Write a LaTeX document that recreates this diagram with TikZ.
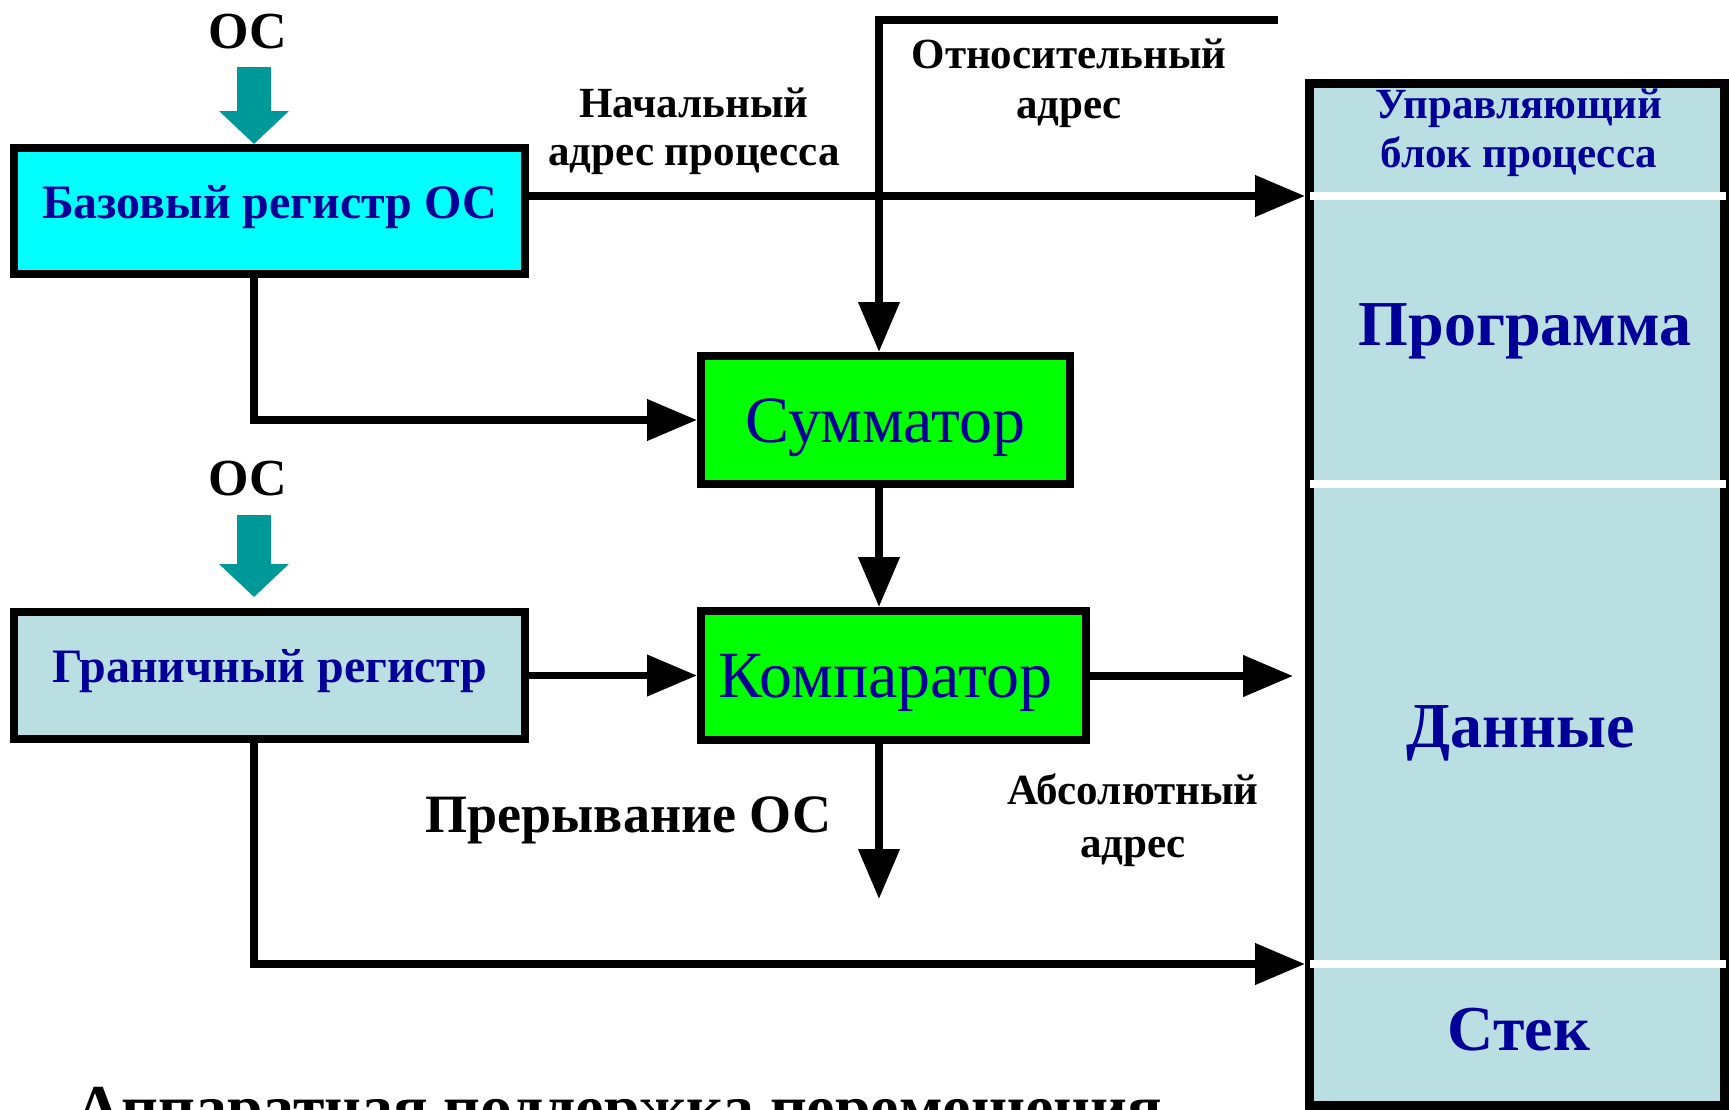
\documentclass[tikz,border=0pt]{standalone}
\usepackage{fontspec}
\setmainfont{Liberation Serif}
\usetikzlibrary{arrows.meta}
\definecolor{txtblue}{RGB}{0,0,153}
\definecolor{oscol}{RGB}{0,153,153}
\definecolor{memfill}{RGB}{185,223,227}
\definecolor{basefill}{RGB}{0,255,255}
\definecolor{sumfill}{RGB}{0,255,0}
\newcommand\myfs[2]{\fontsize{#1}{#2}\selectfont}
\begin{document}
\begin{tikzpicture}[x=1pt,y=-1pt,
  box/.style={draw=black, line width=8pt, rectangle, inner sep=0pt},
  membox/.style={draw=black, line width=9pt, rectangle, inner sep=0pt, fill=memfill},
  divider/.style={draw=white, line width=8pt},
  arr/.style={draw=black, line width=7.5pt, -{Triangle[length=50pt,width=40pt]}},
  osarr/.style={draw=oscol, line width=34pt, -{Triangle[length=33pt,width=68pt]}},
  lbl/.style={text=black, align=center, inner sep=0pt},
  memtxt/.style={text=txtblue, align=center, inner sep=0pt}
]
\useasboundingbox (0,0) rectangle (1729,1109);
\clip (0,0) rectangle (1729,1109);

% memory block
\node[membox, minimum width=415pt, minimum height=1022pt] (mem) at (1517,594) {};
\coordinate (y1) at (0,196);
\coordinate (y2) at (0,484);
\coordinate (y3) at (0,964);
\draw[divider] ([xshift=5pt]mem.west |- y1) -- ([xshift=-3pt]mem.east |- y1);
\draw[divider] ([xshift=5pt]mem.west |- y2) -- ([xshift=-3pt]mem.east |- y2);
\draw[divider] ([xshift=5pt]mem.west |- y3) -- ([xshift=-3pt]mem.east |- y3);

\node[memtxt, font=\bfseries\myfs{43}{49}, anchor=base] (pcb) at (1519,167) {Управляющий\\блок процесса};
\node[memtxt, font=\bfseries\myfs{64}{70}, anchor=base] (prog) at (1525,345) {Программа};
\node[memtxt, font=\bfseries\myfs{64}{70}, anchor=base] (data) at (1521,747) {Данные};
\node[memtxt, font=\bfseries\myfs{64}{70}, anchor=base] (stack) at (1519,1050) {Стек};

% boxes
\node[box, fill=basefill, minimum width=511pt, minimum height=126pt, text=txtblue,
      font=\bfseries\myfs{48}{52}, text height=30pt, text depth=16pt] (base) at (269.5,211) {Базовый регистр ОС};
\node[box, fill=memfill, minimum width=511pt, minimum height=127pt, text=txtblue,
      font=\bfseries\myfs{48}{52}, text height=30pt, text depth=17pt] (gran) at (269.5,675.5) {Граничный регистр};
\node[box, fill=sumfill, minimum width=369pt, minimum height=128pt, text=txtblue,
      font=\myfs{66}{70}, text height=44pt, text depth=0pt] (sum) at (885.5,420) {Сумматор};
\node[box, fill=sumfill, minimum width=385pt, minimum height=129pt, text=txtblue,
      font=\myfs{66}{70}, text height=44pt, text depth=1pt] (comp) at (893.5,675.5) {Компаратор\hspace*{16pt}};

% labels
\node[lbl, font=\bfseries\myfs{52}{56}, anchor=base] (os1) at (248,48) {ОС};
\node[lbl, font=\bfseries\myfs{52}{56}, anchor=base] (os2) at (248,495) {ОС};
\node[lbl, font=\bfseries\myfs{43}{48}, anchor=base] (lstart) at (694,165) {Начальный\\адрес процесса};
\node[lbl, font=\bfseries\myfs{43}{50}, anchor=base] (lrel) at (1069,118) {Относительный\\адрес};
\node[lbl, font=\bfseries\myfs{43}{53}, anchor=base] (labs) at (1133,857) {Абсолютный\\адрес};
\node[lbl, font=\bfseries\myfs{54}{58}, anchor=base] (lint) at (628.5,832) {Прерывание ОС};
\node[lbl, font=\bfseries\myfs{64}{70}, anchor=base west] (title) at (75,1129) {Аппаратная поддержка перемещения};

% teal OS arrows
\coordinate (t1) at (254,67);
\coordinate (t2) at (254,515);
\draw[osarr] (t1) -- (t1 |- base.north);
\draw[osarr, shorten >=11pt] (t2) -- (t2 |- gran.north);

% connectors
\coordinate (rs) at (1278,20);
\coordinate (vx) at (879,20);
\coordinate (b1) at (254,420);
\coordinate (g1) at (254,964);
\coordinate (aout) at (1293,676);
\coordinate (intr) at (879,899);

\draw[arr] (base.east |- y1) -- (mem.west |- y1);
\draw[arr] (rs) -- (vx) -- (vx |- sum.north);
\draw[arr] (b1 |- base.south) -- (b1) -- (b1 -| sum.west);
\draw[arr] (vx |- sum.south) -- (vx |- comp.north);
\draw[arr] (gran.east) -- (gran.east -| comp.west);
\draw[arr] (comp.east |- aout) -- (aout);
\draw[arr] (intr |- comp.south) -- (intr);
\draw[arr] (g1 |- gran.south) -- (g1) -- (g1 -| mem.west);
\end{tikzpicture}
\end{document}
